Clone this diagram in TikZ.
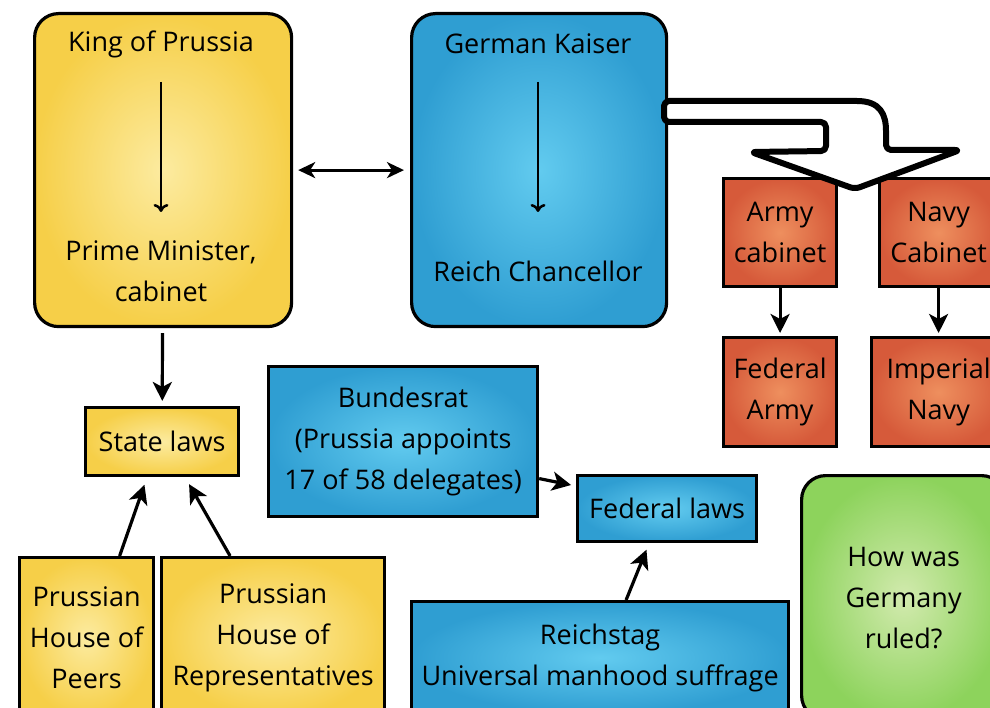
\documentclass[tikz,border=0pt]{standalone}
\usepackage{fontspec}
\setmainfont{Open Sans}
\usetikzlibrary{arrows.meta}

\definecolor{yelin}{HTML}{FCEBA0}
\definecolor{yelout}{HTML}{F6CF48}
\definecolor{bluin}{HTML}{62CBEF}
\definecolor{bluout}{HTML}{2F9ED2}
\definecolor{orain}{HTML}{EE8F5E}
\definecolor{oraout}{HTML}{D65A3A}
\definecolor{grein}{HTML}{D2EAAE}
\definecolor{greout}{HTML}{8DD35C}

\begin{document}
\begin{tikzpicture}[x=1pt,y=-1pt,
    box/.style={draw, line width=3.2pt, rectangle, inner sep=0pt,
      align=center, anchor=north west,
      font=\fontsize{27}{41}\selectfont},
    ybox/.style={box, inner color=yelin, outer color=yelout},
    bbox/.style={box, inner color=bluin, outer color=bluout},
    obox/.style={box, inner color=orain, outer color=oraout},
    gbox/.style={box, inner color=grein, outer color=greout},
    txt/.style={align=center, inner sep=0pt, font=\fontsize{27}{41}\selectfont},
    arr/.style={-{Stealth[length=19pt,width=19pt,inset=5pt]}, line width=3.2pt},
    dblarr/.style={{Stealth[length=17pt,width=16pt,inset=5pt]}-{Stealth[length=17pt,width=16pt,inset=5pt]}, line width=3pt},
    thinarr/.style={-{To[length=8pt,width=15pt]}, line width=2.5pt}]
  \path[use as bounding box, clip] (0,0) rectangle (990,708);

  % upper boxes
  \node[ybox, rounded corners=24pt, minimum width=257pt, minimum height=313pt]
    (king) at (33,12) {};
  \node[bbox, rounded corners=24pt, minimum width=255pt, minimum height=313pt]
    (kaiser) at (410,12) {};
  \node[txt] (kingtxt) at (161,44) {King of Prussia};
  \node[txt] (pm) at (161,271) {Prime Minister,\\cabinet};
  \node[txt] (kaisertxt) at (538,44) {German Kaiser};
  \node[txt] (chancellor) at (538,271) {Reich Chancellor};
  \draw[thinarr, shorten <=38pt, shorten >=59pt] (kingtxt.center) -- (pm.center);
  \draw[thinarr, shorten <=38pt, shorten >=59pt] (kaisertxt.center) -- (chancellor.center);
  \draw[dblarr, shorten <=5pt, shorten >=6pt] (king.east) -- (kaiser.east -| kaiser.west);

  % army and navy
  \node[obox, minimum width=113pt, minimum height=108pt] (army) at (722,177) {Army\\cabinet};
  \node[obox, minimum width=118pt, minimum height=108pt] (navy) at (878,177) {Navy\\Cabinet};
  \node[obox, minimum width=113pt, minimum height=109pt] (fedarmy) at (722,336) {Federal\\Army};
  \node[obox, minimum width=134pt, minimum height=109pt] (impnavy) at (870,336) {Imperial\\Navy};
  \draw[arr, shorten >=3pt] (army) -- (fedarmy);
  \draw[arr, shorten >=3pt] (navy.south) -- (navy.south |- impnavy.north);

  % Prussian side
  \node[ybox, minimum width=153pt, minimum height=68pt] (state) at (84,406) {State laws};
  \node[ybox, minimum width=134pt, minimum height=160pt] (peers) at (18,556) {Prussian\\House of\\Peers};
  \node[ybox, minimum width=223pt, minimum height=160pt] (reps) at (160,556) {Prussian\\House of\\Representatives};
  \draw[arr, shorten <=5pt, shorten >=5pt] (king) -- (state);
  \draw[arr, shorten >=8pt] ([xshift=33pt]peers.north) -- ([xshift=-15pt]state.south);
  \draw[arr, shorten >=8pt] ([xshift=-43pt]reps.north) -- ([xshift=23pt]state.south);

  % Reich side
  \node[bbox, minimum width=269pt, minimum height=150pt] (bundesrat) at (267,365)
    {Bundesrat\\(Prussia appoints\\17 of 58 delegates)};
  \node[bbox, minimum width=179pt, minimum height=66pt] (fedlaws) at (576,474) {Federal laws};
  \node[bbox, minimum width=377pt, minimum height=112pt] (reichstag) at (410,600)
    {Reichstag\\Universal manhood suffrage};
  \draw[arr, shorten >=5pt] ([yshift=-37pt]bundesrat.east) -- ([yshift=-12pt]fedlaws.north west);
  \draw[arr, shorten >=7pt] ([xshift=26pt]reichstag.north) -- ([xshift=-18pt]fedlaws.south);

  \node[gbox, rounded corners=24pt, minimum width=204pt, minimum height=244pt] (question) at (800,474)
    {How was\\Germany\\ruled?};

  % big hollow arrow from the Kaiser
  \draw[line width=6pt, fill=white, rounded corners=5pt, line join=round]
    (664,101) -- (852,101) .. controls (880,101) and (886,114) .. (886,136)
    -- (886,150) -- (960,150) -- (855,189) -- (751,152) -- (826,151)
    -- (826,122) -- (664,122) -- cycle;
\end{tikzpicture}
\end{document}
